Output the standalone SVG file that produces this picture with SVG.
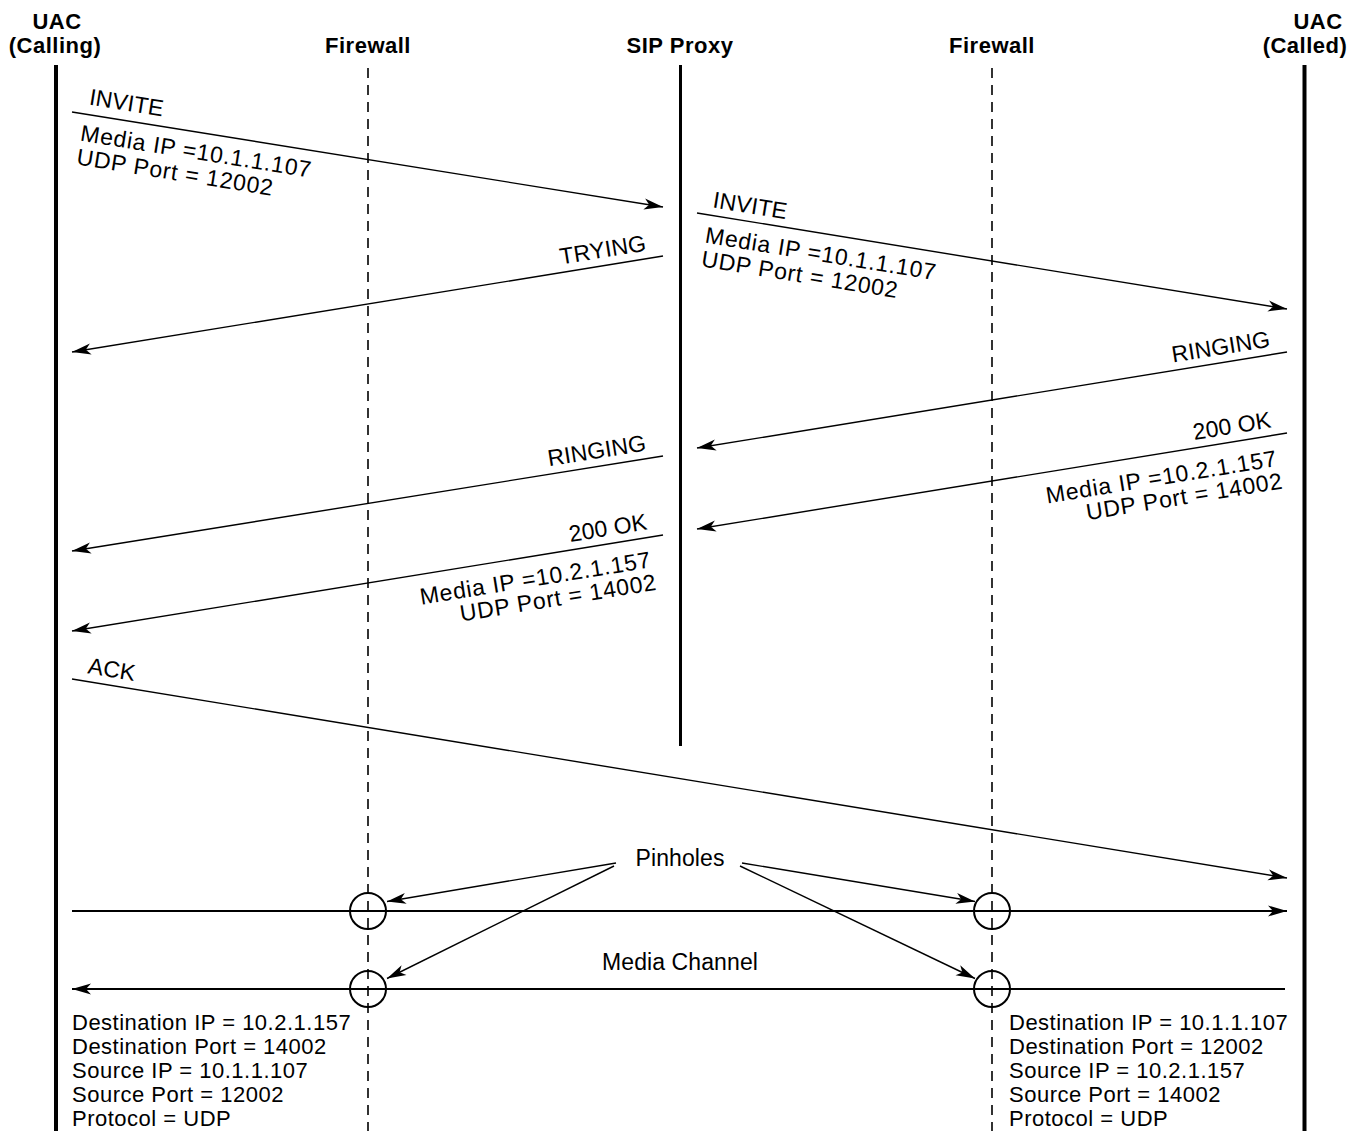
<svg xmlns="http://www.w3.org/2000/svg" width="1360" height="1131" viewBox="0 0 1360 1131">
<style>
text{font-family:"Liberation Sans",Arial,sans-serif;font-size:23px;fill:#000;letter-spacing:0.1px}
.hdr{font-weight:bold;text-anchor:middle;font-size:22px;letter-spacing:0.5px}
.lbl{letter-spacing:0.75px}
.info{font-size:22px;letter-spacing:0.5px}
.end{text-anchor:end}
.mid{text-anchor:middle}
.life{stroke:#000;stroke-width:4;fill:none}
.fw{stroke:#000;stroke-width:1.6;stroke-dasharray:10 7;fill:none}
.msg{stroke:#000;stroke-width:1.4;fill:none;marker-end:url(#ah)}
.med{stroke:#000;stroke-width:2;fill:none}
.pin{fill:none;stroke:#000;stroke-width:2}
</style>
<defs>
<marker id="ah" markerUnits="userSpaceOnUse" markerWidth="24" markerHeight="14" viewBox="-20 -7 22 14" refX="0" refY="0" orient="auto" overflow="visible">
<path d="M0,0 L-19,-5.5 L-14,0 L-19,5.5 Z" fill="#000"/>
</marker>
</defs>
<rect width="1360" height="1131" fill="#fff"/>
<g id="uac-calling">
<text class="hdr" x="57" y="29">UAC</text>
<text class="hdr" x="55" y="53">(Calling)</text>
<line class="life" x1="56" y1="65" x2="56" y2="1131"/>
</g>
<g id="firewall-1">
<text class="hdr" x="368" y="53">Firewall</text>
<line class="fw" x1="368" y1="68" x2="368" y2="1131"/>
</g>
<g id="sip-proxy">
<text class="hdr" x="680" y="53">SIP Proxy</text>
<line class="life" x1="680.5" y1="65" x2="680.5" y2="746" style="stroke-width:3"/>
</g>
<g id="firewall-2">
<text class="hdr" x="992" y="53">Firewall</text>
<line class="fw" x1="992" y1="68" x2="992" y2="1131"/>
</g>
<g id="uac-called">
<text class="hdr" x="1318" y="29">UAC</text>
<text class="hdr" x="1305" y="53">(Called)</text>
<line class="life" x1="1304.5" y1="65" x2="1304.5" y2="1131"/>
</g>
<g id="pinholes">
<circle class="pin" cx="368" cy="911" r="18"/>
<circle class="pin" cx="368" cy="989" r="18"/>
<circle class="pin" cx="992" cy="911" r="18"/>
<circle class="pin" cx="992" cy="989" r="18"/>
<text class="mid" x="680" y="866">Pinholes</text>
</g>
<g id="connectors">
<line class="msg" x1="72" y1="112" x2="663" y2="207"/>
<line class="msg" x1="697" y1="213" x2="1287" y2="309"/>
<line class="msg" x1="663" y1="256" x2="72" y2="352"/>
<line class="msg" x1="1287" y1="352" x2="697" y2="448"/>
<line class="msg" x1="663" y1="456" x2="72" y2="551"/>
<line class="msg" x1="1287" y1="433" x2="697" y2="529"/>
<line class="msg" x1="663" y1="535" x2="72" y2="631"/>
<line class="msg" x1="72" y1="679" x2="1287" y2="878"/>
<line class="med" x1="72" y1="911" x2="1287" y2="911" style="marker-end:url(#ah)"/>
<line class="med" x1="1285" y1="989" x2="72" y2="989" style="marker-end:url(#ah)"/>
<line class="msg" x1="616" y1="863" x2="387" y2="901.5"/>
<line class="msg" x1="614" y1="866" x2="387" y2="978.5"/>
<line class="msg" x1="742" y1="863" x2="975" y2="901.5"/>
<line class="msg" x1="740" y1="866" x2="975" y2="978.5"/>
</g>
<g id="labels">
<g transform="translate(72,112) rotate(9.13)">
<text x="15" y="-10">INVITE</text>
<text class="lbl" x="12" y="27">Media IP =10.1.1.107</text>
<text class="lbl" x="12" y="51">UDP Port = 12002</text>
</g>
<g transform="translate(697,213) rotate(9.24)">
<text x="14" y="-8">INVITE</text>
<text class="lbl" x="12" y="28">Media IP =10.1.1.107</text>
<text class="lbl" x="12" y="52">UDP Port = 12002</text>
</g>
<g transform="translate(663,256) rotate(-9.23)">
<text class="end" x="-15" y="-8">TRYING</text>
</g>
<g transform="translate(1287,352) rotate(-9.24)">
<text class="end" x="-15" y="-8">RINGING</text>
</g>
<g transform="translate(663,456) rotate(-9.13)">
<text class="end" x="-15" y="-8">RINGING</text>
</g>
<g transform="translate(1287,433) rotate(-9.24)">
<text class="end" x="-14" y="-8">200 OK</text>
<text class="lbl end" x="-14" y="31">Media IP =10.2.1.157</text>
<text class="lbl end" x="-12" y="54">UDP Port = 14002</text>
</g>
<g transform="translate(663,535) rotate(-9.23)">
<text class="end" x="-14" y="-8">200 OK</text>
<text class="lbl end" x="-16" y="30">Media IP =10.2.1.157</text>
<text class="lbl end" x="-14" y="53">UDP Port = 14002</text>
</g>
<g transform="translate(72,679) rotate(9.3)">
<text x="14" y="-8">ACK</text>
</g>
<text class="mid" x="680" y="970">Media Channel</text>
<text class="info" x="72" y="1030">Destination IP = 10.2.1.157</text>
<text class="info" x="72" y="1054">Destination Port = 14002</text>
<text class="info" x="72" y="1078">Source IP = 10.1.1.107</text>
<text class="info" x="72" y="1102">Source Port = 12002</text>
<text class="info" x="72" y="1126">Protocol = UDP</text>
<text class="info" x="1009" y="1030">Destination IP = 10.1.1.107</text>
<text class="info" x="1009" y="1054">Destination Port = 12002</text>
<text class="info" x="1009" y="1078">Source IP = 10.2.1.157</text>
<text class="info" x="1009" y="1102">Source Port = 14002</text>
<text class="info" x="1009" y="1126">Protocol = UDP</text>
</g>
</svg>
